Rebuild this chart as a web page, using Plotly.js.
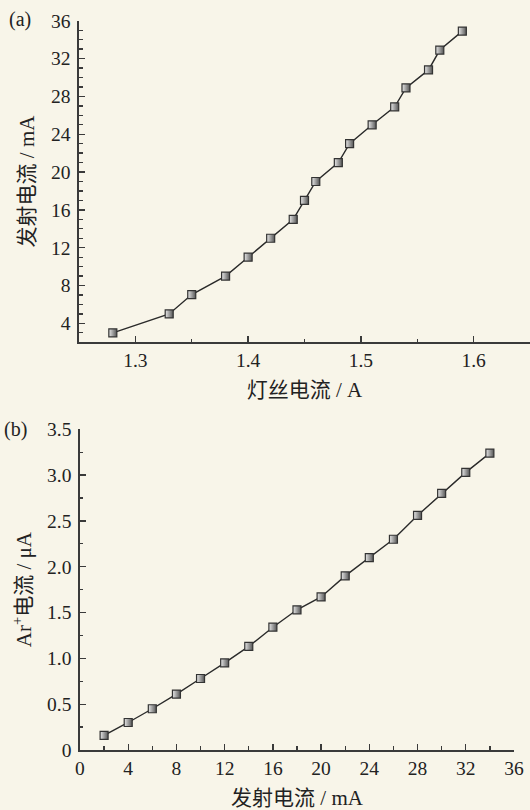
<!DOCTYPE html>
<html>
<head>
<meta charset="utf-8">
<script src="https://cdn.plot.ly/plotly-3.0.1.min.js"></script>
<style>
html,body{margin:0;padding:0;background:#f8f5e9;}
#chart{width:530px;height:810px;}
</style>
</head>
<body>
<div id="chart"></div>
<script>
// Panel (a): filament current vs emission current
const filamentCurrentA = [1.28, 1.33, 1.35, 1.38, 1.40, 1.42, 1.44, 1.45, 1.46, 1.48, 1.49, 1.51, 1.53, 1.54, 1.56, 1.57, 1.59];
const emissionCurrentA_mA = [3.0, 5.0, 7.05, 9.0, 11.0, 13.0, 15.0, 17.0, 19.0, 21.0, 23.0, 25.0, 26.9, 28.9, 30.8, 32.9, 34.9];

// Panel (b): emission current vs Ar+ current
const emissionCurrentB_mA = [2, 4, 6, 8, 10, 12, 14, 16, 18, 20, 22, 24, 26, 28, 30, 32, 34];
const arIonCurrent_uA = [0.16, 0.30, 0.45, 0.61, 0.78, 0.95, 1.13, 1.34, 1.53, 1.67, 1.90, 2.10, 2.30, 2.56, 2.80, 3.03, 3.24];

const yTickValsB = [0, 0.5, 1.0, 1.5, 2.0, 2.5, 3.0, 3.5];
const yTickTextB = ['0', '0.5', '1.0', '1.5', '2.0', '2.5', '3.0', '3.5'];

const FONT = 'Liberation Serif, "Times New Roman", "Noto Sans CJK SC", serif';
const INK = '#222';
const AXC = '#3a3a3a';

const marker = {
  symbol: 'square', size: 8,
  color: '#e8e8e8',
  gradient: {type: 'horizontal', color: '#555'},
  line: {color: '#333', width: 1.2}
};
const line = {color: '#2a2a2a', width: 1.4};

const traces = [
  {x: filamentCurrentA, y: emissionCurrentA_mA, type: 'scatter', mode: 'lines+markers',
   xaxis: 'x', yaxis: 'y', marker: marker, line: line, cliponaxis: false},
  {x: emissionCurrentB_mA, y: arIonCurrent_uA, type: 'scatter', mode: 'lines+markers',
   xaxis: 'x2', yaxis: 'y2', marker: marker, line: line, cliponaxis: false}
];

const axBase = {
  showgrid: false, zeroline: false, showline: true, linecolor: AXC, linewidth: 1.6,
  ticks: 'inside', ticklen: 6, tickwidth: 1.3, tickcolor: AXC,
  tickfont: {family: FONT, size: 19.5, color: INK},
  automargin: false, fixedrange: true
};
const TF = {family: FONT, size: 21, color: INK};

const layout = {
  width: 530, height: 810,
  paper_bgcolor: '#f8f5e9', plot_bgcolor: '#f8f5e9',
  margin: {l: 79, r: 0, t: 0, b: 0},
  showlegend: false,
  font: {family: FONT, color: INK},
  xaxis: Object.assign({}, axBase, {
    domain: [0, 1], anchor: 'y', range: [1.25, 1.65],
    tick0: 1.3, dtick: 0.1, tickformat: '.1f',
    minor: {dtick: 0.05, tick0: 1.25, ticklen: 3.5, tickcolor: AXC, ticks: 'inside'},
    title: {text: '灯丝电流 / A', font: TF, standoff: 12}
  }),
  yaxis: Object.assign({}, axBase, {
    domain: [0.5774, 0.9744], anchor: 'x', range: [2, 36],
    tick0: 0, dtick: 4,
    minor: {dtick: 1, tick0: 0, ticklen: 3.5, tickcolor: AXC, ticks: 'inside'},
    ticklabelstandoff: 3,
    title: {text: '发射电流 / mA', font: TF, standoff: 10}
  }),
  xaxis2: Object.assign({}, axBase, {
    domain: [0.0022, 0.9645], anchor: 'y2', range: [0, 36],
    tick0: 0, dtick: 4,
    minor: {dtick: 2, tick0: 0, ticklen: 3.5, tickcolor: AXC, ticks: 'inside'},
    title: {text: '发射电流 / mA', font: TF, standoff: 12}
  }),
  yaxis2: Object.assign({}, axBase, {
    domain: [0.0741, 0.47], anchor: 'x2', range: [0, 3.5],
    tickvals: yTickValsB, ticktext: yTickTextB,
    minor: {dtick: 0.25, tick0: 0, ticklen: 3.5, tickcolor: AXC, ticks: 'inside'},
    ticklabelstandoff: 3,
    title: {text: 'Ar<sup>+</sup>电流 / μA', font: TF, standoff: 10}
  }),
  annotations: [
    {text: '(a)', xref: 'paper', yref: 'paper', x: -0.13, y: 0.976, xanchor: 'center', yanchor: 'middle',
     showarrow: false, font: {family: FONT, size: 20, color: INK}},
    {text: '(b)', xref: 'paper', yref: 'paper', x: -0.14, y: 0.47, xanchor: 'center', yanchor: 'middle',
     showarrow: false, font: {family: FONT, size: 20, color: INK}}
  ]
};

Plotly.newPlot('chart', traces, layout, {displayModeBar: false, staticPlot: true});
</script>
</body>
</html>
